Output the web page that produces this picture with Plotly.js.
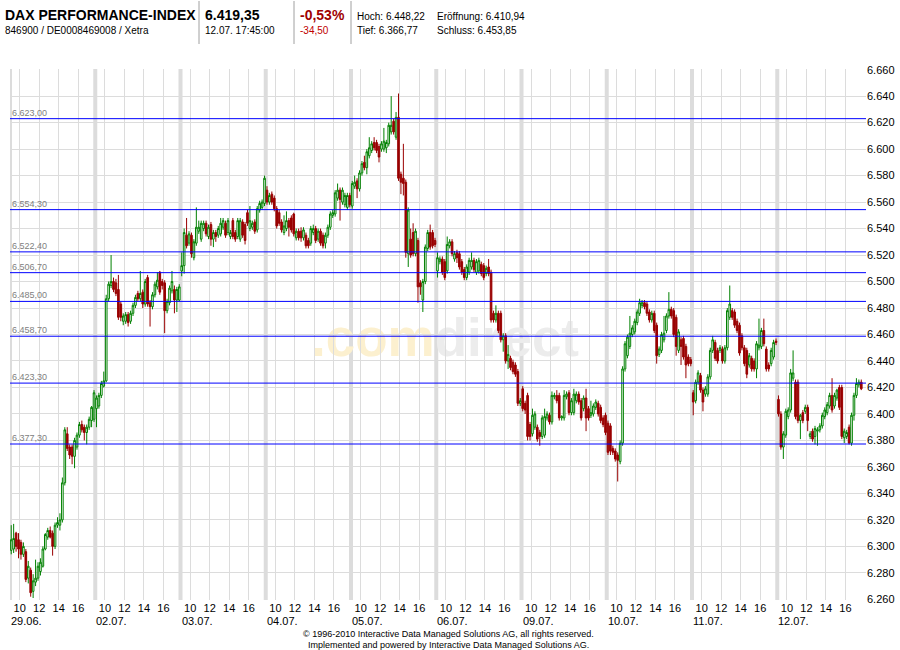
<!DOCTYPE html>
<html><head><meta charset="utf-8">
<script src="https://cdn.plot.ly/plotly-3.0.1.min.js"></script>
<style>body{margin:0;background:#fff}#chart{width:900px;height:650px}</style>
</head><body><div id="chart"></div>
<script>
// ---- data ----
const days = ['29.06.','02.07.','03.07.','04.07.','05.07.','06.07.','09.07.','10.07.','11.07.','12.07.'];
const hourTicks = [10, 12, 14, 16];
const levels = [6623.00, 6554.30, 6522.40, 6506.70, 6485.00, 6458.70, 6423.30, 6377.30];

const open = [
6297,6298,6310,6305,6303,6294,6296,6276,6282,6266,6273,6276,6281,6285,6298,6307,6312,6310,6300,6316,6316,6320,6348,6385,6375,6375,6368,6375,6384,6392,6390,6386,6390,6395,6396,
6404,6406,6414,6421,6425,6487,6497,6500,6499,6494,6483,6470,6470,6475,6470,6476,6482,6491,6487,6492,6483,6503,6484,6481,6490,6496,6507,6500,6499,6478,6484,6493,6494,6486,6486,
6508,6512,6535,6529,6535,6518,6529,6538,6532,6540,6544,6534,6543,6532,6537,6535,6536,6541,6544,6537,6534,6546,6537,6534,6532,6545,6543,6552,6540,6541,6545,6539,6554,6556,6559,
6569,6560,6566,6563,6555,6552,6545,6537,6540,6546,6548,6551,6533,6538,6538,6533,6535,6531,6529,6537,6540,6532,6538,6535,6529,6535,6541,6550,6551,6563,6569,6560,6558,6556,6565,
6557,6572,6576,6570,6582,6590,6586,6595,6599,6605,6605,6602,6600,6600,6601,6604,6613,6621,6609,6624,6581,6578,6575,6521,6532,6537,6521,6531,6499,6486,6500,6525,6537,6537,6531,
6508,6515,6517,6515,6508,6527,6530,6517,6522,6521,6515,6509,6503,6507,6511,6516,6507,6508,6513,6512,6506,6511,6507,6476,6471,6476,6476,6456,6459,6440,6442,6439,6437,6432,6408,
6419,6408,6414,6392,6385,6390,6390,6386,6383,6384,6397,6399,6394,6413,6414,6414,6397,6397,6413,6416,6401,6401,6410,6415,6410,6404,6412,6404,6399,6400,6405,6408,6405,6397,6399,
6393,6391,6374,6372,6369,6364,6378,6434,6444,6451,6460,6462,6469,6476,6482,6484,6483,6477,6471,6476,6467,6445,6448,6456,6463,6474,6479,6478,6473,6448,6456,6457,6451,6443,6441,
6416,6410,6424,6429,6418,6415,6415,6428,6448,6454,6448,6448,6449,6440,6450,6473,6478,6477,6470,6467,6459,6450,6448,6437,6442,6440,6434,6450,6451,6463,6449,6437,6438,6443,6455,
6411,6400,6375,6384,6398,6403,6427,6424,6424,6395,6401,6402,6405,6383,6387,6383,6387,6388,6391,6398,6401,6406,6414,6406,6412,6420,6420,6382,6383,6390,6378,6399,6414,6422,6424
];
const high = [
6316,6317,6311,6310,6305,6303,6298,6289,6284,6279,6290,6288,6291,6300,6310,6314,6315,6312,6318,6322,6325,6352,6390,6390,6377,6377,6382,6386,6394,6395,6392,6392,6398,6406,6418,
6414,6416,6425,6432,6490,6500,6520,6503,6502,6505,6485,6476,6477,6477,6478,6484,6490,6493,6508,6494,6502,6505,6486,6492,6500,6507,6508,6502,6501,6487,6497,6508,6497,6496,6498,
6522,6540,6548,6538,6537,6532,6556,6546,6546,6546,6546,6543,6545,6539,6539,6542,6548,6548,6546,6548,6539,6548,6539,6548,6548,6547,6545,6554,6557,6546,6547,6557,6561,6562,6580,
6572,6567,6568,6565,6557,6554,6547,6550,6553,6548,6550,6552,6540,6540,6541,6541,6537,6533,6542,6543,6542,6540,6540,6537,6537,6543,6553,6554,6569,6574,6571,6571,6567,6567,6567,
6576,6580,6578,6584,6591,6595,6600,6609,6606,6609,6607,6604,6606,6616,6607,6620,6640,6623,6628,6642,6583,6604,6577,6556,6540,6544,6540,6533,6501,6502,6528,6539,6543,6539,6533,
6522,6519,6519,6517,6534,6532,6532,6523,6524,6523,6517,6511,6513,6518,6522,6518,6517,6518,6515,6514,6512,6517,6509,6478,6482,6478,6478,6461,6461,6452,6444,6441,6439,6434,6412,
6421,6410,6416,6394,6404,6402,6392,6388,6399,6404,6402,6401,6417,6416,6418,6416,6399,6418,6417,6418,6412,6419,6417,6417,6412,6414,6419,6406,6410,6408,6411,6410,6407,6399,6401,
6395,6393,6376,6374,6371,6380,6436,6455,6460,6474,6467,6472,6479,6487,6486,6486,6485,6479,6478,6478,6469,6451,6462,6474,6476,6492,6481,6480,6475,6464,6458,6459,6453,6445,6443,
6418,6426,6433,6431,6420,6421,6430,6450,6459,6456,6450,6452,6451,6452,6480,6497,6480,6479,6472,6469,6461,6452,6450,6446,6444,6442,6455,6472,6465,6472,6451,6439,6450,6456,6457,
6414,6402,6387,6404,6405,6434,6448,6426,6426,6400,6403,6407,6407,6387,6389,6391,6390,6393,6401,6405,6409,6416,6427,6416,6419,6422,6422,6389,6388,6392,6401,6416,6427,6426,6426
];
const low = [
6294,6295,6296,6291,6290,6292,6273,6272,6262,6261,6270,6274,6278,6284,6297,6305,6306,6293,6298,6314,6312,6318,6346,6372,6366,6362,6359,6373,6382,6386,6380,6377,6388,6390,6394,
6390,6404,6412,6420,6424,6485,6495,6492,6489,6471,6470,6467,6468,6466,6468,6474,6480,6485,6485,6480,6481,6481,6466,6479,6488,6494,6490,6494,6461,6476,6482,6491,6476,6477,6485,
6504,6506,6525,6527,6518,6516,6527,6536,6530,6538,6534,6532,6527,6526,6530,6533,6534,6539,6533,6535,6532,6532,6530,6532,6530,6533,6528,6542,6538,6539,6536,6537,6552,6554,6557,
6558,6558,6558,6553,6540,6542,6537,6535,6538,6534,6537,6534,6531,6531,6530,6531,6525,6525,6527,6535,6529,6530,6527,6525,6525,6533,6539,6548,6549,6561,6546,6558,6556,6554,6556,
6555,6570,6563,6568,6580,6584,6581,6593,6597,6599,6597,6590,6598,6598,6597,6602,6611,6611,6607,6576,6566,6565,6518,6511,6518,6519,6519,6484,6490,6477,6498,6523,6524,6525,6526,
6503,6513,6505,6501,6506,6525,6519,6515,6514,6509,6505,6501,6501,6505,6509,6507,6505,6506,6504,6501,6504,6504,6469,6469,6469,6461,6454,6447,6438,6434,6433,6430,6428,6406,6406,
6402,6400,6380,6380,6383,6388,6379,6376,6381,6382,6395,6392,6392,6411,6408,6395,6395,6395,6411,6399,6399,6399,6408,6407,6395,6402,6387,6395,6397,6398,6403,6398,6393,6390,6384,
6369,6369,6369,6364,6349,6362,6376,6432,6442,6449,6458,6460,6467,6474,6480,6479,6474,6469,6469,6461,6438,6443,6446,6454,6461,6472,6472,6458,6444,6446,6437,6441,6427,6436,6436,
6399,6408,6422,6416,6402,6413,6413,6426,6446,6440,6438,6446,6438,6438,6448,6471,6471,6465,6461,6444,6448,6436,6427,6435,6432,6432,6427,6448,6449,6451,6432,6432,6436,6441,6452,
6398,6373,6366,6382,6396,6401,6425,6396,6393,6381,6393,6400,6387,6381,6379,6377,6376,6386,6389,6396,6399,6404,6401,6404,6410,6403,6381,6378,6381,6377,6376,6395,6412,6420,6418
];
const close = [
6305,6306,6300,6298,6294,6300,6275,6285,6265,6274,6276,6285,6288,6298,6309,6312,6307,6300,6316,6318,6320,6348,6388,6374,6369,6368,6380,6384,6392,6388,6386,6390,6396,6405,6416,
6412,6414,6423,6425,6487,6498,6500,6494,6491,6473,6473,6474,6475,6469,6476,6482,6488,6487,6491,6483,6500,6483,6481,6490,6498,6501,6492,6497,6478,6485,6495,6500,6486,6494,6496,
6512,6537,6527,6536,6521,6530,6541,6541,6544,6544,6536,6541,6532,6537,6534,6540,6544,6546,6535,6546,6537,6534,6532,6546,6546,6535,6531,6544,6546,6544,6538,6555,6559,6560,6578,
6560,6565,6560,6555,6542,6544,6539,6542,6546,6541,6539,6536,6538,6533,6533,6539,6527,6527,6540,6540,6531,6538,6529,6527,6535,6541,6551,6552,6567,6569,6562,6569,6565,6565,6558,
6574,6575,6570,6582,6589,6586,6598,6601,6604,6601,6599,6594,6604,6606,6605,6618,6618,6613,6624,6578,6575,6574,6522,6554,6520,6521,6538,6496,6496,6500,6526,6537,6526,6527,6528,
6518,6517,6507,6503,6528,6530,6521,6521,6518,6511,6507,6503,6511,6516,6516,6509,6515,6516,6506,6503,6510,6506,6471,6471,6476,6463,6456,6459,6440,6445,6435,6432,6430,6408,6410,
6404,6403,6383,6383,6399,6400,6381,6383,6397,6398,6400,6394,6414,6414,6410,6397,6398,6414,6415,6401,6410,6415,6415,6409,6397,6412,6397,6397,6401,6406,6409,6400,6395,6392,6386,
6371,6372,6371,6366,6365,6378,6434,6453,6458,6461,6465,6470,6477,6484,6484,6481,6476,6471,6476,6463,6444,6449,6460,6461,6474,6479,6474,6460,6451,6462,6451,6443,6437,6438,6438,
6409,6424,6431,6418,6409,6419,6428,6448,6456,6442,6440,6450,6440,6450,6478,6483,6473,6467,6463,6446,6450,6438,6430,6444,6434,6434,6453,6452,6463,6453,6434,6434,6448,6454,6454,
6400,6375,6385,6402,6403,6431,6431,6398,6395,6399,6395,6405,6395,6385,6381,6389,6388,6391,6399,6403,6407,6414,6403,6414,6418,6405,6383,6387,6386,6378,6399,6414,6423,6424,6419
];

// header texts
const titleName = 'DAX PERFORMANCE-INDEX';
const titleIds = '846900 / DE0008469008 / Xetra';
const lastPrice = '6.419,35';
const lastTime = '12.07. 17:45:00';
const changePct = '-0,53%';
const changeAbs = '-34,50';
const statsRow1 = ['Hoch: 6.448,22', 'Eröffnung: 6.410,94'];
const statsRow2 = ['Tief: 6.366,77', 'Schluss: 6.453,85'];
const footer1 = '© 1996-2010 Interactive Data Managed Solutions AG, all rights reserved.';
const footer2 = 'Implemented and powered by Interactive Data Managed Solutions AG.';

// ---- time axis: each trading day 09:00-17:45, 15-min candles ----
const slotsPerDay = 35, dayHours = 8.75, slotH = 0.25, dayStartHour = 9;
const x = open.map((_, i) => Math.floor(i / slotsPerDay) * dayHours + (i % slotsPerDay) * slotH + slotH / 2);
const tickvals = [], ticktext = [];
days.forEach((d, di) => hourTicks.forEach(h => { tickvals.push(di * dayHours + (h - dayStartHour)); ticktext.push(String(h)); }));

function fmtDE(v) {
  const s = v.toFixed(2).split('.');
  return s[0].replace(/\B(?=(\d{3})+(?!\d))/g, '.') + ',' + s[1];
}

const FONT = 'Liberation Sans, Arial, sans-serif';
// pixel helpers for paper coords (plot: x 10..866, y 69..600)
const L = 10, R = 866, T = 69, B = 600;
const px = v => (v - L) / (R - L);
const py = v => (B - v) / (B - T);

const shapes = [];
const annotations = [];

// day separators
days.forEach((d, di) => {
  shapes.push({type: 'line', xref: 'x', yref: 'paper', x0: di * dayHours, x1: di * dayHours, y0: 0, y1: 1,
    line: {color: '#dcdcdc', width: 4}, layer: 'below'});
  annotations.push({xref: 'x', yref: 'paper', x: di * dayHours, y: py(621), xanchor: 'left', yanchor: 'middle',
    text: d, showarrow: false, font: {family: FONT, size: 11, color: '#000'}, xshift: -1});
});

// watermark (behind data)
shapes.push({type: 'rect', xref: 'paper', yref: 'paper', x0: px(300), x1: px(590), y0: py(360), y1: py(305),
  line: {width: 0}, fillcolor: 'rgba(0,0,0,0)', layer: 'below',
  label: {text: '<b><span style="color:#fcf0cf">.com</span><span style="color:#ececec">direct</span></b>',
    font: {family: FONT, size: 53, color: '#ececec'}, textposition: 'middle center'}});

// horizontal reference levels
levels.forEach(v => {
  shapes.push({type: 'line', xref: 'paper', yref: 'y', x0: 0, x1: 1, y0: v, y1: v,
    line: {color: '#0000ff', width: 1}});
  annotations.push({xref: 'paper', yref: 'y', x: 0, y: v, xanchor: 'left', yanchor: 'bottom', xshift: 0, yshift: -1,
    text: fmtDE(v), showarrow: false, font: {family: FONT, size: 9, color: '#808080'}});
});

// header
const hdr = (t, xp, yp, size, color) => annotations.push({
  xref: 'paper', yref: 'paper', x: px(xp), y: py(yp), xanchor: 'left', yanchor: 'middle',
  text: t, showarrow: false, font: {family: FONT, size: size, color: color || '#000'}});
hdr('<b>' + titleName + '</b>', 3, 15, 14);
hdr(titleIds, 3, 31, 10);
hdr('<b>' + lastPrice + '</b>', 203, 15, 14);
hdr(lastTime, 203, 31, 10);
hdr('<b>' + changePct + '</b>', 298, 15, 14, '#a00000');
hdr(changeAbs, 298, 31, 10, '#c00000');
hdr(statsRow1[0], 355, 16, 10); hdr(statsRow1[1], 435, 16, 10);
hdr(statsRow2[0], 355, 31, 10); hdr(statsRow2[1], 435, 31, 10);
[199, 294, 351].forEach(xv => shapes.push({type: 'line', xref: 'paper', yref: 'paper',
  x0: px(xv), x1: px(xv), y0: py(1), y1: py(44), line: {color: '#a0a0a0', width: 1}}));

// footer
annotations.push({xref: 'paper', yref: 'paper', x: px(448), y: py(634), xanchor: 'center', yanchor: 'middle',
  text: footer1, showarrow: false, font: {family: FONT, size: 9, color: '#000'}});
annotations.push({xref: 'paper', yref: 'paper', x: px(448), y: py(645), xanchor: 'center', yanchor: 'middle',
  text: footer2, showarrow: false, font: {family: FONT, size: 9, color: '#000'}});

const trace = {
  type: 'candlestick', x: x, open: open, high: high, low: low, close: close,
  increasing: {line: {color: '#008000', width: 1}, fillcolor: '#ffffff'},
  decreasing: {line: {color: '#990000', width: 1}, fillcolor: '#990000'},
  whiskerwidth: 0, hoverinfo: 'skip', showlegend: false
};

const layout = {
  width: 900, height: 650,
  margin: {l: L, r: 900 - R, t: T, b: 650 - B, pad: 0},
  paper_bgcolor: '#ffffff', plot_bgcolor: '#ffffff',
  separators: ',.',
  boxgap: 0.05,
  showlegend: false,
  xaxis: {type: 'linear', range: [0, (R - L) / (85.25 / dayHours)], tickvals: tickvals, ticktext: ticktext,
    showgrid: true, gridcolor: '#dcdcdc', gridwidth: 1, zeroline: false, showline: false, ticks: '',
    tickfont: {family: FONT, size: 11, color: '#000'}, rangeslider: {visible: false}, fixedrange: true},
  yaxis: {side: 'right', range: [6259.5, 6660.5], tick0: 6260, dtick: 20, tickformat: ',',
    showgrid: true, gridcolor: '#dcdcdc', gridwidth: 1, zeroline: false, showline: false, ticks: '',
    tickfont: {family: FONT, size: 11, color: '#000'}, fixedrange: true},
  shapes: shapes,
  annotations: annotations
};

Plotly.newPlot('chart', [trace], layout, {displayModeBar: false, staticPlot: true});
</script>
</body></html>
